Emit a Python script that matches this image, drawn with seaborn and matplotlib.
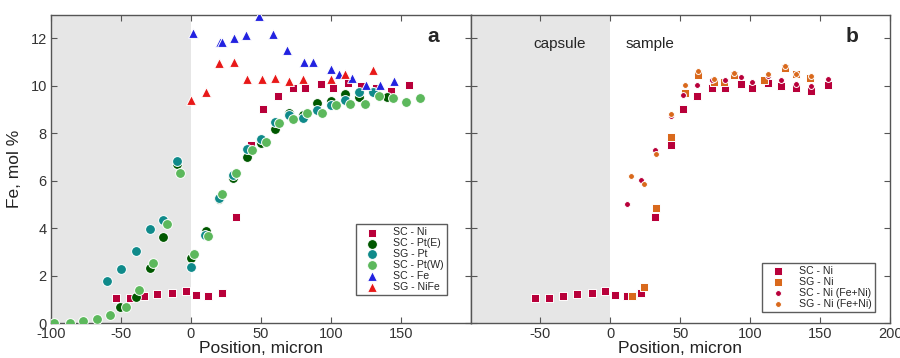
import numpy as np
import pandas as pd
import matplotlib
matplotlib.use("Agg")
import matplotlib.pyplot as plt
import seaborn as sns

# ---- data (position in micron, Fe in mol %) ----
sc_ni_x = [-53.7, -43.8, -33.8, -24.1, -13.5, -3.8, 3.4, 12.2, 22.0, 32.0, 43.2, 51.8, 62.2, 72.8, 81.9,
           93.3, 101.6, 112.6, 122.0, 132.7, 143.3, 155.7]
sc_ni_y = [1.08, 1.08, 1.15, 1.25, 1.29, 1.36, 1.20, 1.16, 1.29, 4.46, 7.50, 9.02, 9.56, 9.90, 9.92,
           10.06, 9.90, 10.14, 9.99, 9.90, 9.77, 10.02]

sc_pte_x = [-50.5, -39.3, -29.5, -20.0, -10.0, 0.0, 10.7, 20.2, 30.0, 40.0, 50.5, 60.5, 70.5, 80.0,
            90.0, 100.2, 110.5, 120.0, 130.0, 140.0]
sc_pte_y = [0.70, 1.12, 2.34, 3.62, 6.69, 2.74, 3.89, 5.24, 6.10, 6.99, 7.58, 8.18, 8.84, 8.77,
            9.29, 9.38, 9.66, 9.52, 9.75, 9.54]

sg_pt_x = [-59.8, -49.8, -39.5, -29.5, -20.0, -10.0, 0.0, 10.2, 20.2, 30.0, 39.8, 50.5, 60.5, 70.5,
           80.0, 90.0, 100.2, 110.5, 120.0, 130.0]
sg_pt_y = [1.78, 2.27, 3.06, 3.96, 4.35, 6.82, 2.39, 3.72, 5.28, 6.25, 7.33, 7.75, 8.48, 8.76,
           8.66, 8.98, 9.19, 9.40, 9.74, 9.75]

sc_ptw_x = [-97.9, -86.7, -77.4, -66.9, -57.6, -46.4, -37.1, -27.4, -17.1, -7.6, 1.9, 12.6, 22.4,
            32.4, 43.8, 53.6, 63.3, 73.1, 82.9, 93.6, 104.0, 113.8, 124.5, 134.3, 144.3, 153.8, 163.8]
sc_ptw_y = [0.03, 0.00, 0.11, 0.18, 0.34, 0.70, 1.40, 2.55, 4.18, 6.33, 2.92, 3.68, 5.43,
            6.33, 7.31, 7.65, 8.44, 8.60, 8.86, 8.86, 9.19, 9.24, 9.24, 9.57, 9.47, 9.32, 9.47]

sc_fe_x = [1.4, 21.0, 22.6, 30.5, 39.3, 49.0, 58.6, 68.6, 81.2, 87.6, 100.2, 105.7, 115.2, 125.0,
           135.0, 145.0]
sc_fe_y = [12.21, 11.86, 11.86, 12.00, 12.14, 12.94, 12.18, 11.51, 11.00, 11.00, 10.72, 10.51,
           10.33, 10.02, 10.02, 10.19]

sg_nife_x = [0.0, 10.5, 20.2, 30.5, 40.0, 50.7, 60.5, 70.2, 80.0, 100.5, 110.4, 130.0]
sg_nife_y = [9.40, 9.73, 10.98, 11.02, 10.30, 10.27, 10.34, 10.20, 10.30, 10.31, 10.48, 10.69]

sg_ni_x = [15.2, 24.3, 32.6, 43.2, 53.1, 62.7, 73.9, 81.0, 88.7, 109.8, 124.8, 132.5, 143.0]
sg_ni_y = [1.15, 1.52, 4.87, 7.86, 9.69, 10.45, 10.15, 10.15, 10.45, 10.25, 10.75, 10.48, 10.33]

sc_nifeni_x = [12.1, 21.9, 31.9, 43.1, 51.7, 62.1, 72.9, 81.7, 93.1, 101.4, 112.6, 121.9, 132.6,
               143.1, 155.5]
sc_nifeni_y = [5.04, 6.04, 7.31, 8.73, 9.61, 10.02, 10.23, 10.23, 10.36, 10.15, 10.40, 10.23, 10.09,
               9.98, 10.27]

sg_nifeni_x = [15.0, 24.3, 32.6, 43.1, 53.1, 62.9, 73.8, 88.6, 112.9, 124.8, 132.6, 143.1]
sg_nifeni_y = [6.20, 5.88, 7.14, 8.83, 10.02, 10.64, 10.29, 10.53, 10.48, 10.84, 10.51, 10.40]

# ---- style ----
sns.set_style("ticks")
plt.rcParams['font.family'] = ['Liberation Sans', 'DejaVu Sans']

crimson = '#b8003a'
orange = '#d9691c'
dkgreen = '#005800'
teal = '#0f8a8a'
ltgreen = '#5cb85c'
blue = '#2222e0'
red = '#e81818'
axcol = '#555555'

fig, (ax1, ax2) = plt.subplots(1, 2, figsize=(9, 3.58), dpi=100)
fig.subplots_adjust(left=0.0567, right=0.989, top=0.959, bottom=0.097, wspace=0)


def pts(x, y, ax, label, color, marker, size):
    df = pd.DataFrame({'x': x, 'y': y})
    sns.scatterplot(data=df, x='x', y='y', ax=ax, color=color, marker=marker, s=size,
                    edgecolor='white', linewidth=0.7, label=label, zorder=3)


# panel a
pts(sc_ni_x, sc_ni_y, ax1, 'SC - Ni', crimson, 's', 30)
pts(sc_pte_x, sc_pte_y, ax1, 'SC - Pt(E)', dkgreen, 'o', 50)
pts(sg_pt_x, sg_pt_y, ax1, 'SG - Pt', teal, 'o', 50)
pts(sc_ptw_x, sc_ptw_y, ax1, 'SC - Pt(W)', ltgreen, 'o', 50)
pts(sc_fe_x, sc_fe_y, ax1, 'SC - Fe', blue, '^', 50)
pts(sg_nife_x, sg_nife_y, ax1, 'SG - NiFe', red, '^', 50)

# panel b
pts(sc_ni_x, sc_ni_y, ax2, 'SC - Ni', crimson, 's', 30)
pts(sg_ni_x, sg_ni_y, ax2, 'SG - Ni', orange, 's', 30)
pts(sc_nifeni_x, sc_nifeni_y, ax2, 'SC - Ni (Fe+Ni)', crimson, 'o', 18)
pts(sg_nifeni_x, sg_nifeni_y, ax2, 'SG - Ni (Fe+Ni)', orange, 'o', 18)

for ax in (ax1, ax2):
    ax.axvspan(-100, 0, color='#e6e6e6', zorder=0, lw=0)
    ax.set_xlim(-100, 200)
    ax.set_ylim(0, 13)
    ax.set_yticks([0, 2, 4, 6, 8, 10, 12])
    ax.tick_params(direction='in', top=True, right=True, length=4, width=0.8,
                   colors=axcol, labelcolor='#333333', labelsize=10.5, pad=3)
    for sp in ax.spines.values():
        sp.set_color(axcol)
        sp.set_linewidth(1.0)
    ax.set_xlabel('Position, micron', fontsize=12.5, labelpad=0, color='#222222')
    leg = ax.legend(loc='lower right', bbox_to_anchor=(0.943, 0.092) if ax is ax1 else (0.964, 0.037),
                    fontsize=7.6, frameon=True, fancybox=False, handletextpad=0.8,
                    borderpad=0.3, labelspacing=0.08, markerscale=1.0, borderaxespad=0,
                    handlelength=2.4)
    leg.get_frame().set_edgecolor('#333333')
    leg.get_frame().set_linewidth(1.0)

ax1.set_xticks([-100, -50, 0, 50, 100, 150])
ax1.set_xticklabels(['-100', '-50', '0', '50', '100', '150'])
ax2.set_xticks([-50, 0, 50, 100, 150, 200])
ax2.set_xticklabels(['-50', '0', '50', '100', '150', '200'])
ax2.set_yticklabels([])
ax1.set_ylabel('Fe, mol %', fontsize=12.5, labelpad=6, color='#222222')
ax2.set_ylabel('')

ax1.text(0.897, 0.928, 'a', transform=ax1.transAxes, fontsize=15, fontweight='bold', va='center')
ax2.text(0.893, 0.928, 'b', transform=ax2.transAxes, fontsize=15, fontweight='bold', va='center')
ax2.text(-36, 11.76, 'capsule', fontsize=11, ha='center', va='center')
ax2.text(10.7, 11.76, 'sample', fontsize=11, ha='left', va='center')

fig.savefig('out.png', dpi=100)
